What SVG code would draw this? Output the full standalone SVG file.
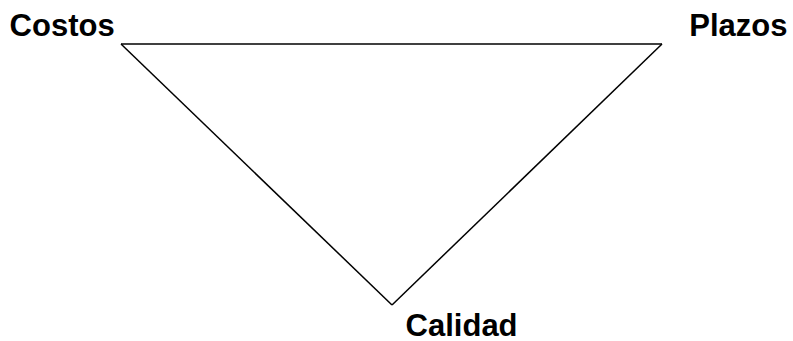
<svg xmlns="http://www.w3.org/2000/svg" width="793" height="341" viewBox="0 0 793 341">
<style>
.lbl{font-family:"Liberation Sans",Arial,sans-serif;font-weight:bold;font-size:31px;fill:#000}
.edge{fill:none;stroke:#000;stroke-width:1.5}
</style>
<rect width="793" height="341" fill="#fff"/>
<g id="connectors">
<path class="edge" d="M121,44 L662,44"/>
<path class="edge" d="M662,44 L392,305"/>
<path class="edge" d="M392,305 L121,44"/>
</g>
<g id="costos"><text class="lbl" x="9.6" y="36">Costos</text></g>
<g id="plazos"><text class="lbl" x="689.3" y="35.5">Plazos</text></g>
<g id="calidad"><text class="lbl" x="405.6" y="336">Calidad</text></g>
</svg>
